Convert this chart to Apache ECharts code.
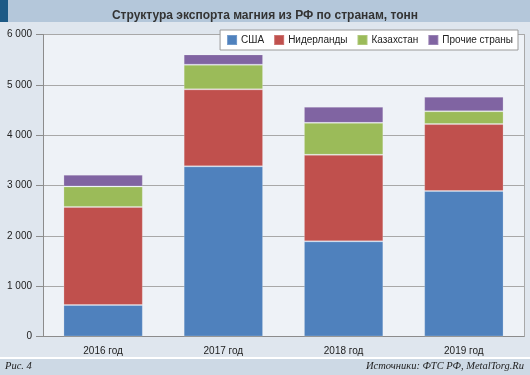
<!DOCTYPE html>
<html><head><meta charset="utf-8">
<script src="https://cdn.jsdelivr.net/npm/echarts@6/dist/echarts.min.js"></script>
<style>html,body{margin:0;padding:0;background:#dfe6ee}#c{width:530px;height:375px}</style>
</head><body><div id="c"></div>
<script>
const categories = ['2016 год', '2017 год', '2018 год', '2019 год'];
const seriesNames = ['США', 'Нидерланды', 'Казахстан', 'Прочие страны'];
const usa = [625, 3380, 1890, 2890];
const netherlands = [1950, 1530, 1720, 1330];
const kazakhstan = [405, 490, 635, 255];
const others = [235, 205, 320, 290];
const colors = ['#4f81bd', '#c0504d', '#9bbb59', '#8064a2'];
const titleText = 'Структура экспорта магния из РФ по странам, тонн';
const figText = 'Рис. 4';
const sourceText = 'Источники: ФТС РФ, MetalTorg.Ru';

const values = [usa, netherlands, kazakhstan, others];
const chart = echarts.init(document.getElementById('c'), null, {renderer: 'canvas'});
const fmt = v => String(v).replace(/\B(?=(\d{3})+(?!\d))/g, ' ');
chart.setOption({
  backgroundColor: '#dfe6ee',
  animation: false,
  textStyle: {fontFamily: 'Liberation Sans, Arial, sans-serif'},
  graphic: [
    {type: 'rect', left: 0, top: 0, shape: {width: 530, height: 22}, style: {fill: '#b4c7da'}, z: -1},
    {type: 'rect', left: 0, top: 0, shape: {width: 8, height: 22}, style: {fill: '#1d5a86'}, z: 0},
    {type: 'rect', left: 0, top: 357, shape: {width: 530, height: 2}, style: {fill: '#ffffff'}, z: -1},
    {type: 'rect', left: 0, top: 359, shape: {width: 530, height: 16}, style: {fill: '#cdd9e5'}, z: -1},
    {type: 'text', left: 5, top: 361, style: {text: figText, fill: '#222', font: 'italic 10.5px "Liberation Serif", serif'}},
    {type: 'text', right: 6, top: 361, style: {text: sourceText, fill: '#222', font: 'italic 10.5px "Liberation Serif", serif'}}
  ],
  title: {
    text: titleText, left: 'center', top: 5,
    textStyle: {fontSize: 12, fontWeight: 'bold', color: '#333', fontFamily: 'Liberation Sans, Arial, sans-serif'}
  },
  legend: {
    data: seriesNames, right: 12, top: 30,
    backgroundColor: '#ffffff', borderColor: '#9a9a9a', borderWidth: 1,
    padding: [4, 5, 4, 6], itemWidth: 10, itemHeight: 10, itemGap: 9,
    icon: 'rect',
    textStyle: {fontSize: 10, color: '#222', padding: [0, 0, 0, -1]}
  },
  grid: {left: 43, right: 6, top: 34.5, bottom: 38.5, show: true, backgroundColor: '#eef2f7', borderWidth: 0},
  xAxis: {
    type: 'category', data: categories,
    axisLine: {lineStyle: {color: '#8c8c8c', width: 1}},
    axisTick: {length: 5, lineStyle: {color: '#8c8c8c'}},
    axisLabel: {color: '#222', fontSize: 10, margin: 10}
  },
  yAxis: [{
    type: 'value', min: 0, max: 6000, interval: 1000,
    axisLine: {show: true, lineStyle: {color: '#8c8c8c'}},
    axisTick: {show: true, length: 7, lineStyle: {color: '#8c8c8c'}},
    axisLabel: {color: '#222', fontSize: 10, margin: 11, formatter: fmt},
    splitLine: {lineStyle: {color: '#a8a8a8', width: 1}}
  }, {
    type: 'value', min: 0, max: 6000, interval: 1000, position: 'right',
    axisLine: {show: true, lineStyle: {color: '#a8a8a8'}},
    axisTick: {show: false}, axisLabel: {show: false}, splitLine: {show: false}
  }],
  series: seriesNames.map((n, i) => ({
    name: n, type: 'bar', stack: 'total', data: values[i], barWidth: '66%',
    itemStyle: {color: colors[i], borderColor: 'rgba(255,255,255,0.2)', borderWidth: 1}
  }))
});
</script></body></html>
